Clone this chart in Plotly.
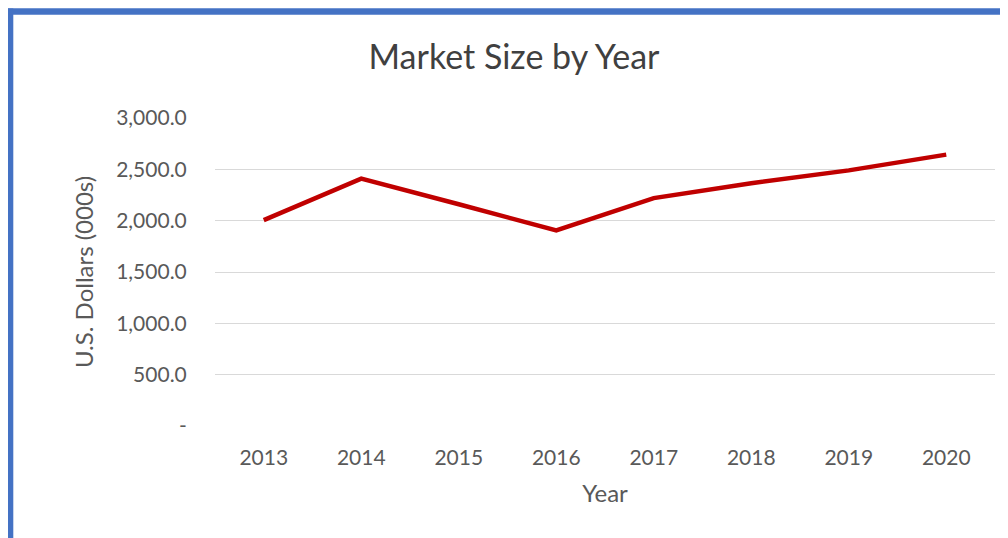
import plotly.graph_objects as go

years = ["2013", "2014", "2015", "2016", "2017", "2018", "2019", "2020"]
market_size = [2005, 2410, 2160, 1905, 2220, 2365, 2490, 2643]
y_tick_vals = [0, 500, 1000, 1500, 2000, 2500, 3000]
y_tick_text = ["-", "500.0", "1,000.0", "1,500.0", "2,000.0", "2,500.0", "3,000.0"]

FONT = "Lato"
# page has an 8px body margin, so figure coords = page coords - 8
W, H = 1000, 530
L, R, T, B = 207, 13, 110, 112
pw, ph = W - L - R, H - T - B

fig = go.Figure()
fig.add_trace(go.Scatter(
    x=years, y=market_size, mode="lines",
    line=dict(color="#C00000", width=4.5),
    hoverinfo="skip", showlegend=False,
))

def px_x(p):
    return (p - L) / pw

def px_y(p):
    return (H - B - p) / ph

fig.update_layout(
    width=W, height=H,
    margin=dict(l=L, r=R, t=T, b=B, pad=0),
    paper_bgcolor="white", plot_bgcolor="white",
    font=dict(family=FONT, color="#595959"),
    title=dict(text="Market Size by Year", x=0.506, xanchor="center",
               y=1 - 49 / H, yanchor="middle",
               font=dict(size=34, color="#404040", family=FONT)),
    xaxis=dict(
        type="category", range=[-0.5, 7.5],
        showgrid=False, showline=False, zeroline=False,
        ticks="outside", ticklen=13, tickcolor="rgba(0,0,0,0)",
        tickfont=dict(size=21, color="#595959"),
        title=dict(text="Year", font=dict(size=24, color="#595959"), standoff=16),
    ),
    yaxis=dict(
        range=[0, 3000], tickvals=y_tick_vals, ticktext=y_tick_text,
        showgrid=True, gridcolor="#D9D9D9", gridwidth=1.4,
        zeroline=False, showline=False,
        ticks="outside", ticklen=23, tickcolor="rgba(0,0,0,0)",
        tickfont=dict(size=21, color="#595959"),
        title=dict(text="U.S. Dollars (000s)", font=dict(size=24, color="#595959"), standoff=15),
    ),
    shapes=[
        dict(type="line", xref="paper", yref="paper",
             x0=px_x(2.3), x1=px_x(2.3), y0=px_y(0.5), y1=px_y(560),
             line=dict(color="#4472C4", width=6)),
        dict(type="line", xref="paper", yref="paper",
             x0=px_x(-1), x1=px_x(1030), y0=px_y(3.6), y1=px_y(3.6),
             line=dict(color="#4472C4", width=6.5)),
    ],
)

fig.write_html("out.html")
